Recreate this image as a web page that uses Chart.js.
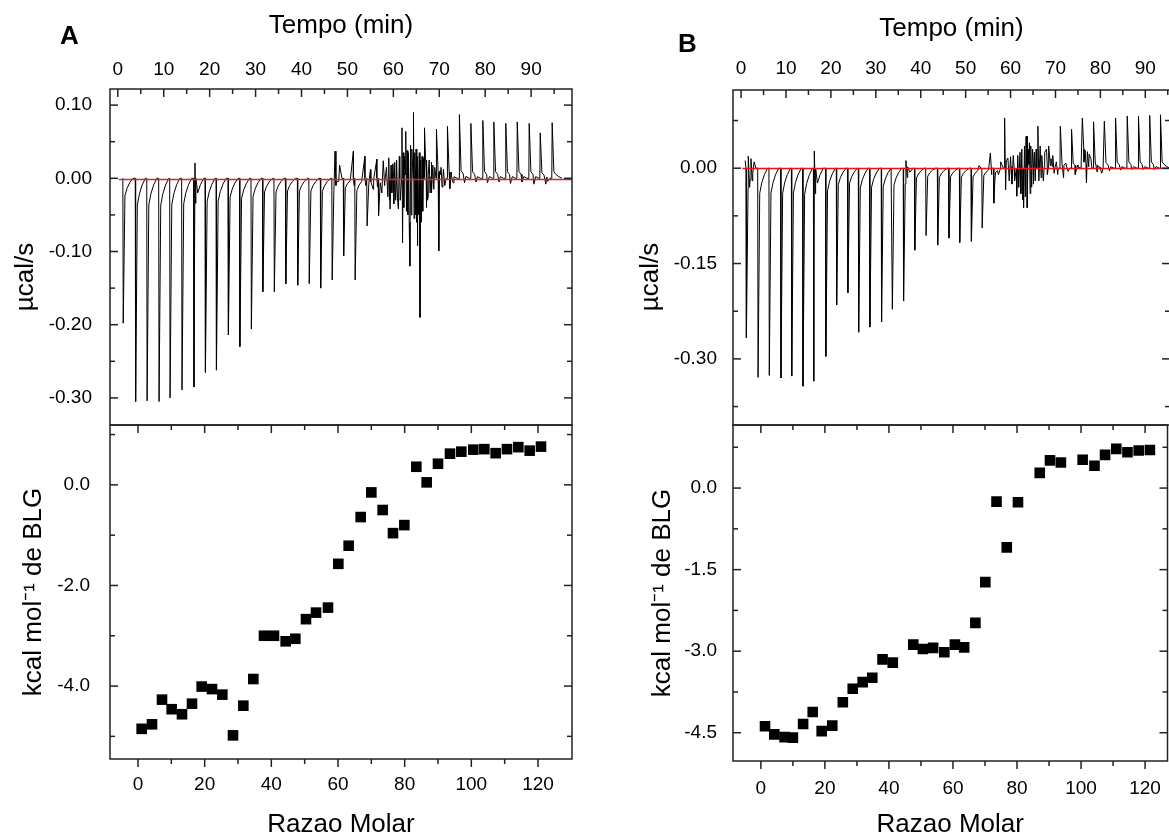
<!DOCTYPE html>
<html lang="pt">
<head>
<meta charset="utf-8">
<title>ITC - BLG</title>
<script src="https://cdn.jsdelivr.net/npm/chart.js@4.4.1/dist/chart.umd.min.js"></script>
<style>
  html, body { margin: 0; padding: 0; background: #fff; }
  body { width: 1169px; height: 840px; position: relative; overflow: hidden; }
  .painel { position: absolute; }
  .painel canvas { display: block; }
  .letra { position: absolute; z-index: 2; font: bold 26px 'Liberation Sans', Arial, sans-serif; line-height: 30px; color: #000; }
</style>
</head>
<body>
<div class="painel" style="left:0; top:0;"><canvas id="topoA" width="585" height="426"></canvas></div>
<div class="painel" style="left:0; top:415px;"><canvas id="baseA" width="585" height="425"></canvas></div>
<div class="painel" style="left:600px; top:0;"><canvas id="topoB" width="575" height="426"></canvas></div>
<div class="painel" style="left:600px; top:415px;"><canvas id="baseB" width="575" height="425"></canvas></div>
<div class="letra" style="left:60px; top:20px;">A</div>
<div class="letra" style="left:678px; top:28px;">B</div>
<script>
const FONTE = "'Liberation Sans', Arial, sans-serif";
const COR_TEXTO = '#000';

// ---- Painel A: termograma (tempo da injeção em min, pico em µcal/s) ----
const tempoInjA = [1.1, 3.8, 6.3, 8.9, 11.3, 13.9, 16.5, 19.0, 21.4, 24.0, 26.5, 29.0, 31.5, 34.0, 36.5, 39.1, 41.6, 44.1, 46.6, 49.1,
  51.6, 54.2, 56.7, 59.2, 61.8, 64.3, 66.7, 69.3, 71.7, 74.3, 76.8, 79.4, 81.8, 84.4, 86.9, 89.5, 91.9, 94.5];
const picoInjA = [-0.198, -0.305, -0.304, -0.305, -0.300, -0.289, -0.285, -0.265, -0.262, -0.214, -0.230, -0.206, -0.155, -0.155,
  -0.144, -0.146, -0.144, -0.150, -0.139, -0.106, -0.139, -0.065, -0.051, -0.042, 0.069, 0.090, 0.069, 0.067, 0.071, 0.087,
  0.075, 0.079, 0.077, 0.075, 0.077, 0.075, 0.062, 0.076];
const extraA = [
  [16.8, 0.021], [17.0, 0.0], [47.3, 0.037], [47.6, -0.005], [48.3, 0.018], [51.3, 0.037], [51.45, -0.01],
  [53.8, 0.030], [54.0, -0.01], [55.0, 0.012], [55.6, -0.015], [56.0, 0.01], [56.4, 0.026], [56.55, -0.012],
  [57.5, -0.02], [57.8, 0.024], [58.1, -0.01], [58.5, 0.015], [58.8, -0.025], [59.0, 0.028], [59.15, -0.03],
  [59.5, 0.018], [59.7, -0.02], [59.9, 0.02], [60.1, -0.035], [60.3, 0.022], [60.5, -0.03], [60.7, 0.025],
  [60.9, -0.028], [61.1, -0.042], [61.3, 0.03], [61.5, -0.03], [62.0, -0.088], [62.15, 0.035], [62.3, -0.04],
  [62.45, 0.03], [62.7, 0.064], [62.85, -0.045], [63.0, 0.038], [63.15, -0.05], [63.3, 0.035], [63.45, -0.06],
  [63.6, -0.12], [63.75, 0.045], [63.9, -0.05], [64.05, 0.04], [64.5, -0.055], [64.65, 0.035], [64.8, -0.05],
  [64.95, 0.04], [65.1, -0.06], [65.2, -0.092], [65.35, 0.03], [65.5, -0.05], [65.65, 0.035], [65.8, -0.19],
  [65.95, 0.025], [66.1, -0.06], [66.25, 0.03], [66.4, -0.045], [66.55, 0.028], [67.0, 0.03], [67.15, -0.04],
  [67.3, 0.025], [67.45, -0.03], [67.6, -0.024], [67.8, 0.025], [68.0, -0.02], [68.2, 0.022], [68.4, -0.02],
  [68.6, 0.018], [68.8, -0.015], [69.0, 0.015], [69.9, -0.099], [70.05, 0.01], [70.4, 0.015], [70.6, -0.012],
  [70.9, 0.012], [71.2, -0.01], [72.3, -0.014], [72.6, 0.008], [73.0, -0.006], [75.5, -0.006], [78.0, -0.005],
  [80.5, -0.006], [83.0, -0.005], [85.5, -0.007], [88.0, -0.005], [90.6, -0.008], [93.2, -0.008], [93.6, -0.004]
];
const linhaBaseTempoA = [0.2, 98.9];
const linhaBaseValorA = [-0.0015, -0.0015];

// ---- Painel A: calor integrado ----
const razaoA = [1.1, 4.2, 7.2, 10.1, 13.2, 16.2, 19.1, 22.2, 25.3, 28.5, 31.6, 34.6, 37.8, 40.8, 44.3, 47.2, 50.4, 53.4, 57.0,
  60.1, 63.2, 66.8, 70.0, 73.4, 76.5, 79.9, 83.5, 86.6, 90.0, 93.6, 97.0, 100.6, 103.9, 107.3, 110.7, 114.1, 117.5, 120.9];
const calorA = [-4.85, -4.76, -4.27, -4.46, -4.56, -4.35, -4.01, -4.06, -4.17, -4.98, -4.39, -3.86, -3.00, -3.00, -3.11, -3.06,
  -2.67, -2.54, -2.44, -1.57, -1.21, -0.64, -0.15, -0.50, -0.96, -0.80, 0.36, 0.05, 0.42, 0.62, 0.66, 0.70, 0.71, 0.63,
  0.71, 0.75, 0.68, 0.76];

// ---- Painel B: termograma ----
const tempoInjB = [1.1, 3.7, 6.2, 8.8, 11.2, 13.7, 16.1, 18.8, 21.2, 23.7, 26.1, 28.6, 31.2, 33.6, 36.1, 38.6, 41.1, 43.7, 46.2,
  48.6, 51.2, 53.6, 56.2, 58.6, 61.3, 63.6, 66.0, 68.4, 71.0, 73.5, 75.9, 78.4, 80.8, 83.3, 85.9, 88.4, 90.9, 93.3];
const picoInjB = [-0.267, -0.329, -0.326, -0.330, -0.327, -0.343, -0.335, -0.296, -0.215, -0.196, -0.258, -0.250, -0.242,
  -0.222, -0.209, -0.129, -0.106, -0.121, -0.110, -0.117, -0.115, -0.094, -0.055, 0.079, -0.044, 0.050, 0.066, 0.035,
  0.066, 0.061, 0.079, 0.073, 0.074, 0.079, 0.082, 0.082, 0.083, 0.084];
const extraB = [
  [0.9, 0.012], [1.6, 0.019], [1.9, -0.03], [2.2, 0.015], [2.5, -0.02], [2.9, 0.01], [16.3, 0.027], [16.6, 0.0],
  [36.7, 0.012], [37.1, 0.002], [53.0, 0.004], [55.5, 0.024], [55.8, -0.01], [56.5, -0.02], [57.3, -0.01], [57.8, 0.01],
  [58.9, -0.034], [59.1, 0.012], [59.4, 0.016], [59.7, -0.02], [60.0, 0.018], [60.3, -0.025], [60.6, 0.02], [60.9, -0.02],
  [61.6, 0.02], [61.8, -0.03], [62.1, 0.025], [62.3, -0.04], [62.5, 0.03], [62.7, -0.05], [62.9, -0.062], [63.1, 0.035],
  [63.3, -0.045], [63.45, 0.05], [63.7, -0.062], [63.9, 0.03], [64.2, 0.04], [64.35, -0.04], [64.5, 0.035], [64.7, -0.03],
  [64.9, 0.03], [65.1, -0.025], [65.3, 0.025], [65.5, -0.02], [65.7, 0.03], [66.3, -0.02], [66.6, 0.035], [66.8, -0.015],
  [67.0, 0.02], [67.3, -0.02], [67.6, 0.025], [68.0, 0.03], [68.2, -0.01], [69.0, 0.015], [69.4, 0.02], [69.7, -0.008],
  [70.2, 0.01], [70.5, -0.01], [71.8, -0.015], [72.3, 0.008], [72.8, -0.005], [74.4, -0.01], [74.9, 0.005],
  [76.3, 0.030], [76.6, 0.028], [76.9, -0.023], [77.1, 0.026], [77.5, 0.022], [77.9, 0.015], [78.9, 0.008],
  [79.3, -0.006], [79.8, 0.0], [80.3, -0.008], [82.0, -0.004], [84.5, -0.003], [87.0, -0.002], [89.5, -0.002], [92.0, -0.002]
];
const linhaBaseTempoB = [0.3, 95.5];
const linhaBaseValorB = [-0.0005, -0.0005];

// ---- Painel B: calor integrado ----
const razaoB = [1.3, 4.2, 7.4, 10.0, 13.2, 16.2, 19.0, 22.3, 25.6, 28.7, 31.8, 34.8, 38.0, 41.2, 47.6, 50.6, 53.8, 57.3, 60.6,
  63.5, 67.0, 70.1, 73.6, 76.8, 80.3, 87.1, 90.3, 93.7, 100.5, 104.2, 107.5, 111.0, 114.5, 118.0, 121.5];
const calorB = [-4.38, -4.53, -4.58, -4.59, -4.34, -4.12, -4.47, -4.37, -3.94, -3.69, -3.57, -3.49, -3.15, -3.21, -2.88, -2.96,
  -2.94, -3.02, -2.88, -2.93, -2.48, -1.73, -0.25, -1.09, -0.26, 0.28, 0.51, 0.47, 0.52, 0.41, 0.61, 0.72, 0.66, 0.69, 0.70];

// ---- rótulos dos eixos ----
const ticksTempo = [0, 10, 20, 30, 40, 50, 60, 70, 80, 90];
const ticksFluxoA = [0.10, 0.00, -0.10, -0.20, -0.30];
const ticksFluxoB = [0.00, -0.15, -0.30];
const ticksRazao = [0, 20, 40, 60, 80, 100, 120];
const ticksCalorA = [0, -2, -4];
const ticksCalorB = [0, -1.5, -3, -4.5];

// forma de cada injeção: [tempo relativo (min), fração do pico]
const FORMA_PICO = [[0, 0], [0.08, 1], [0.45, 0.12], [0.9, 0.07], [1.5, 0.03], [2.2, 0]];

function montarTermograma(tempos, picos, extras) {
  const pts = [];
  tempos.forEach((t, i) => {
    FORMA_PICO.forEach(([dt, f]) => pts.push({ x: t + dt, y: picos[i] * f }));
  });
  extras.forEach(([t, v]) => pts.push({ x: t, y: v }));
  pts.sort((a, b) => a.x - b.x);
  return pts;
}

function pares(xs, ys) {
  return xs.map((x, i) => ({ x: x, y: ys[i] }));
}

// moldura do gráfico com marcas para dentro (estilo Origin)
const moldura = {
  id: 'moldura',
  afterDatasetsDraw(chart, args, o) {
    const { ctx, chartArea: a } = chart;
    const sx = chart.scales.x, sy = chart.scales.y;
    const ehMaior = (s, v) => s.ticks.some(t => Math.abs(t.value - v) < 1e-6);
    const traco = (x1, y1, x2, y2) => { ctx.beginPath(); ctx.moveTo(x1, y1); ctx.lineTo(x2, y2); ctx.stroke(); };
    ctx.save();
    ctx.strokeStyle = '#222';
    ctx.lineWidth = 1.5;
    ctx.strokeRect(a.left, a.top, a.right - a.left, a.bottom - a.top);
    for (let k = 0; o.xDe + k * o.xPasso <= o.xAte + 1e-9; k++) {
      const v = o.xDe + k * o.xPasso;
      const px = sx.getPixelForValue(v);
      const len = ehMaior(sx, v) ? 8 : 5;
      traco(px, a.top, px, a.top + len);
      if (o.baixoFora) traco(px, a.bottom, px, a.bottom + len);
    }
    for (let k = 0; o.yDe + k * o.yPasso <= o.yAte + 1e-9; k++) {
      const v = o.yDe + k * o.yPasso;
      const py = sy.getPixelForValue(v);
      const len = ehMaior(sy, v) ? 8 : 5;
      traco(a.left, py, a.left + len, py);
      traco(a.right, py, a.right - len, py);
    }
    ctx.restore();
  }
};

// título vertical deslocado (µcal/s fica abaixo do centro no original)
const tituloLateral = {
  id: 'tituloLateral',
  afterDraw(chart, args, o) {
    if (!o || !o.texto) return;
    const ctx = chart.ctx;
    ctx.save();
    ctx.translate(o.x, o.y);
    ctx.rotate(-Math.PI / 2);
    ctx.font = '26px ' + FONTE;
    ctx.fillStyle = COR_TEXTO;
    ctx.textAlign = 'center';
    ctx.textBaseline = 'middle';
    ctx.fillText(o.texto, 0, 0);
    ctx.restore();
  }
};

function tamanhoFixo(lado, tam) {
  return (s) => {
    if (lado === 'w') s.width = tam; else s.height = tam;
    s.paddingTop = s.paddingBottom = s.paddingLeft = s.paddingRight = 0;
  };
}

function ticksFixos(valores) {
  return (s) => { s.ticks = valores.map(v => ({ value: v })); };
}

function eixo(e, horizontal) {
  const tit = e.titulo
    ? { display: true, text: e.titulo, color: COR_TEXTO, font: { family: FONTE, size: 26 }, padding: e.titPad }
    : { display: false };
  return {
    type: 'linear', position: e.pos, min: e.min, max: e.max, bounds: 'data',
    grid: { display: false, drawTicks: false }, border: { display: false },
    afterBuildTicks: ticksFixos(e.ticks),
    afterFit: tamanhoFixo(horizontal ? 'h' : 'w', e.tam),
    ticks: {
      autoSkip: false, maxRotation: 0, padding: e.pad, color: COR_TEXTO,
      font: { family: FONTE, size: 19 },
      callback: (v) => Number(v).toFixed(e.dec)
    },
    title: tit
  };
}

function criarPainel(id, p) {
  new Chart(document.getElementById(id), {
    type: 'line',
    data: { datasets: p.datasets },
    plugins: [moldura, tituloLateral],
    options: {
      responsive: false,
      animation: false,
      devicePixelRatio: 1,
      layout: { padding: p.padding },
      plugins: {
        legend: { display: false },
        tooltip: { enabled: false },
        moldura: p.moldura,
        tituloLateral: p.tituloLateral || {}
      },
      scales: { x: eixo(p.x, true), y: eixo(p.y, false) }
    }
  });
}

function serieTermograma(tempos, picos, extras, baseT, baseV, corBase) {
  return [
    { data: pares(baseT, baseV), borderColor: corBase, borderWidth: 1.5, pointRadius: 0, order: 0 },
    { data: montarTermograma(tempos, picos, extras), borderColor: '#000', borderWidth: 1, pointRadius: 0, tension: 0, order: 1 }
  ];
}

function serieCalor(xs, ys) {
  return [{
    data: pares(xs, ys), showLine: false, pointStyle: 'rect', pointRadius: 7.5,
    pointBackgroundColor: '#000', pointBorderWidth: 0, pointHoverRadius: 7.5
  }];
}

criarPainel('topoA', {
  datasets: serieTermograma(tempoInjA, picoInjA, extraA, linhaBaseTempoA, linhaBaseValorA, '#cc2a2a'),
  padding: { left: 0, top: 0, right: 13, bottom: 1 },
  x: { pos: 'top', min: -1.7, max: 98.9, ticks: ticksTempo, dec: 0, tam: 89, pad: 8, titulo: 'Tempo (min)', titPad: { top: 10 } },
  y: { pos: 'left', min: -0.337, max: 0.122, ticks: ticksFluxoA, dec: 2, tam: 110, pad: 18 },
  moldura: { xDe: 0, xAte: 95, xPasso: 5, yDe: -0.30, yAte: 0.10, yPasso: 0.05, baixoFora: false },
  tituloLateral: { texto: 'µcal/s', x: 26, y: 277 }
});

criarPainel('baseA', {
  datasets: serieCalor(razaoA, calorA),
  padding: { left: 0, top: 10, right: 13, bottom: 0 },
  x: { pos: 'bottom', min: -8.4, max: 130.2, ticks: ticksRazao, dec: 0, tam: 81, pad: 14, titulo: 'Razao Molar', titPad: { bottom: 0 } },
  y: { pos: 'left', min: -5.45, max: 1.19, ticks: ticksCalorA, dec: 1, tam: 110, pad: 20, titulo: 'kcal mol⁻¹ de BLG', titPad: { top: 18 } },
  moldura: { xDe: 0, xAte: 120, xPasso: 10, yDe: -5, yAte: 1, yPasso: 1, baixoFora: true }
});

criarPainel('topoB', {
  datasets: serieTermograma(tempoInjB, picoInjB, extraB, linhaBaseTempoB, linhaBaseValorB, '#ee1111'),
  padding: { left: 0, top: 0, right: 5, bottom: 1 },
  x: { pos: 'top', min: -1.8, max: 95.5, ticks: ticksTempo, dec: 0, tam: 90, pad: 10, titulo: 'Tempo (min)', titPad: { top: 13 } },
  y: { pos: 'left', min: -0.404, max: 0.123, ticks: ticksFluxoB, dec: 2, tam: 133, pad: 16 },
  moldura: { xDe: 0, xAte: 95, xPasso: 5, yDe: -0.375, yAte: 0.075, yPasso: 0.075, baixoFora: false },
  tituloLateral: { texto: 'µcal/s', x: 51, y: 277 }
});

criarPainel('baseB', {
  datasets: serieCalor(razaoB, calorB),
  padding: { left: 0, top: 10, right: 5, bottom: 0 },
  x: { pos: 'bottom', min: -8.7, max: 127, ticks: ticksRazao, dec: 0, tam: 79, pad: 16, titulo: 'Razao Molar', titPad: { bottom: 0 } },
  y: { pos: 'left', min: -5.02, max: 1.16, ticks: ticksCalorB, dec: 1, tam: 133, pad: 16, titulo: 'kcal mol⁻¹ de BLG', titPad: { top: 47 } },
  moldura: { xDe: 0, xAte: 120, xPasso: 10, yDe: -4.5, yAte: 0.75, yPasso: 0.75, baixoFora: true }
});
</script>
</body>
</html>
